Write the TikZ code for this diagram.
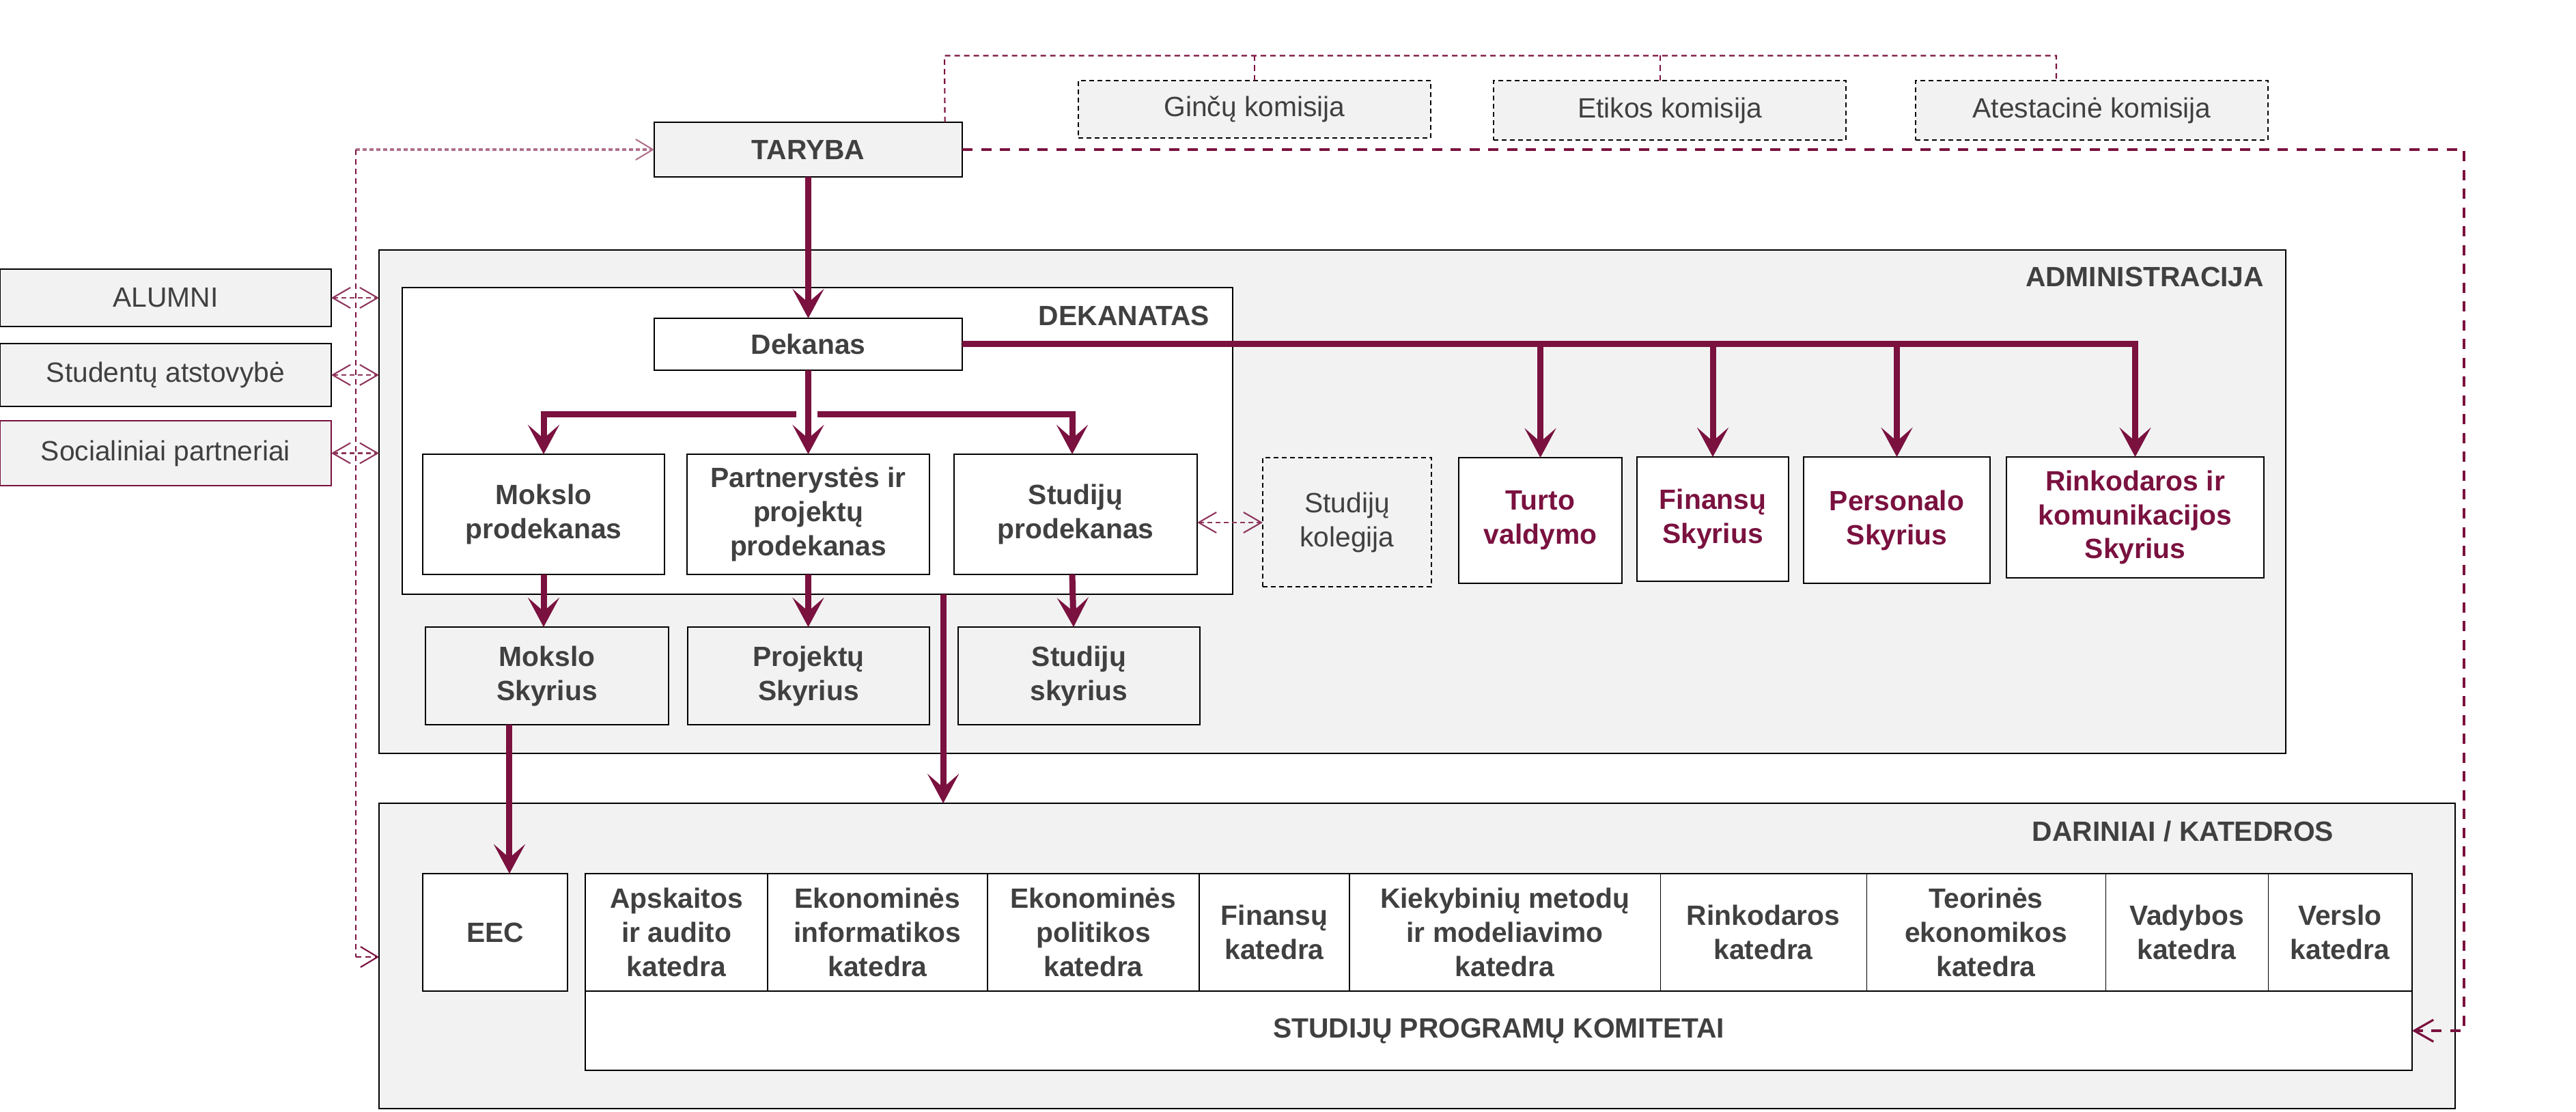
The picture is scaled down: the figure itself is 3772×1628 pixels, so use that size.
\documentclass[tikz,border=0pt]{standalone}
\usepackage{fontspec}
\setmainfont{Liberation Sans}
\usetikzlibrary{arrows.meta}
\definecolor{maroon}{RGB}{122,17,63}
\definecolor{bgc}{RGB}{242,242,242}
\definecolor{txt}{RGB}{64,64,64}
\newcommand\pbox[7]{\node[#1, minimum width={(#5-#3)*0.01cm}, minimum height={(#6-#4)*0.01cm}] (#2) at ({(#3+#5)/2},{(#4+#6)/2}) {#7};}
\begin{document}
\begin{tikzpicture}[x=0.01cm, y=-0.01cm,
  every node/.style={inner sep=0pt, outer sep=0pt, align=center, text=txt},
  nf/.style={font=\fontsize{11.6}{14.2}\selectfont},
  bf/.style={font=\fontsize{11.6}{14.2}\selectfont\bfseries},
  bx/.style={bf, draw=black, line width=0.7pt, fill=white},
  gbx/.style={bx, fill=bgc},
  dbx/.style={nf, draw=black, line width=0.5pt, dash pattern=on 0.07cm off 0.05cm, fill=bgc},
  cell/.style={bf, draw=black, line width=0.3pt, fill=white},
  mtext/.style={text=maroon},
  arr/.style={draw=maroon, line width=0.09cm, -{Stealth[length=0.43cm,width=0.46cm,inset=0.2cm]}},
  barline/.style={draw=maroon, line width=0.09cm},
  thindash/.style={draw=maroon, line width=0.6pt, dash pattern=on 0.08cm off 0.06cm},
  thickdash/.style={draw=maroon, line width=0.045cm, dash pattern=on 0.15cm off 0.125cm},
  lighttip/.style={-{Straight Barb[length=0.25cm,width=0.3cm,line width=0.6pt]}},
  dbl/.style={draw=maroon!85, line width=0.6pt, dash pattern=on 0.07cm off 0.05cm,
     {Straight Barb[length=0.26cm,width=0.3cm,line width=0.6pt]}-{Straight Barb[length=0.26cm,width=0.3cm,line width=0.6pt]}}
]
\useasboundingbox (0,0) rectangle (3772,1628);

% big containers
\pbox{gbx}{admin}{555}{366}{3347}{1103}{}
\pbox{gbx}{darin}{555}{1176}{3595}{1623}{}
\pbox{bx}{dekanatas}{589}{421}{1805}{870}{}
\node[bf, anchor=base east] (admlab) at (3315,419.5) {ADMINISTRACIJA};
\node[bf, anchor=base east] (deklab) at (1771,476.5) {DEKANATAS};
\node[bf, anchor=base east] (darlab) at (3417,1231.5) {DARINIAI / KATEDROS};

% top
\pbox{gbx}{taryba}{958}{179}{1409}{259}{TARYBA}
\pbox{dbx}{ginc}{1579}{118}{2095}{202}{Ginčų komisija}
\pbox{dbx}{etik}{2187}{118}{2703}{205}{Etikos komisija}
\pbox{dbx}{atest}{2805}{118}{3321}{205}{Atestacinė komisija}

% left side
\pbox{gbx, nf}{alumni}{0}{394}{485}{478}{ALUMNI}
\pbox{gbx, nf}{stud}{0}{503}{485}{595}{Studentų atstovybė}
\pbox{gbx, nf, draw=maroon}{soc}{0}{616}{485}{711}{Socialiniai partneriai}

% dekanatas
\pbox{bx}{dek}{958}{466}{1409}{542}{Dekanas}
\pbox{bx}{mpro}{619}{665}{973}{841}{Mokslo\\prodekanas}
\pbox{bx}{ppro}{1006}{665}{1361}{841}{Partnerystės ir\\projektų\\prodekanas}
\pbox{bx}{spro}{1397}{665}{1753}{841}{Studijų\\prodekanas}

% skyriai
\pbox{gbx}{msk}{623}{918}{979}{1061}{Mokslo\\Skyrius}
\pbox{gbx}{psk}{1007}{918}{1361}{1061}{Projektų\\Skyrius}
\pbox{gbx}{ssk}{1403}{918}{1757}{1061}{Studijų\\skyrius}

% right admin
\pbox{dbx}{koleg}{1849}{670}{2096}{859}{Studijų\\kolegija}
\pbox{bx, mtext}{turto}{2136}{670}{2375}{854}{Turto\\valdymo}
\pbox{bx, mtext}{fin}{2397}{669}{2619}{851}{Finansų\\Skyrius}
\pbox{bx, mtext}{pers}{2641}{669}{2914}{854}{Personalo\\Skyrius}
\pbox{bx, mtext}{rink}{2938}{669}{3315}{846}{Rinkodaros ir\\komunikacijos\\Skyrius}

% darinai
\pbox{bx}{eec}{619}{1279}{831}{1451}{EEC}
\pbox{cell}{c1}{857}{1279}{1124}{1451}{Apskaitos\\ir audito\\katedra}
\pbox{cell}{c2}{1124}{1279}{1446}{1451}{Ekonominės\\informatikos\\katedra}
\pbox{cell}{c3}{1446}{1279}{1756}{1451}{Ekonominės\\politikos\\katedra}
\pbox{cell}{c4}{1756}{1279}{1976}{1451}{Finansų\\katedra}
\pbox{cell}{c5}{1976}{1279}{2431}{1451}{Kiekybinių metodų\\ir modeliavimo\\katedra}
\pbox{cell}{c6}{2431}{1279}{2733}{1451}{Rinkodaros\\katedra}
\pbox{cell}{c7}{2733}{1279}{3083}{1451}{Teorinės\\ekonomikos\\katedra}
\pbox{cell}{c8}{3083}{1279}{3321}{1451}{Vadybos\\katedra}
\pbox{cell}{c9}{3321}{1279}{3532}{1451}{Verslo\\katedra}
\pbox{bx}{spk}{857}{1451}{3532}{1567}{STUDIJŲ PROGRAMŲ KOMITETAI}
\draw[line width=0.7pt] (c1.north west) rectangle (spk.south east);

% thick arrows
\draw[arr] (taryba.south) -- (dek.north);
\draw[arr] (dek.south) -- (ppro.north);
\coordinate (barc) at (1183,607);
\draw[arr] ([xshift=-0.17cm]barc) -| (mpro.north);
\draw[arr] ([xshift=0.14cm]barc) -| ([xshift=-0.05cm]spro.north);
\draw[arr] (mpro.south) -- (mpro.south |- msk.north);
\draw[arr] (ppro.south) -- (ppro.south |- psk.north);
\draw[arr] ([xshift=-0.05cm]spro.south) -- ([xshift=-0.03cm]spro.south |- ssk.north);
\draw[arr] ([xshift=1.84cm]dekanatas.south) -- ([xshift=1.84cm]dekanatas.south |- darin.north);
\draw[arr] ([xshift=-0.55cm]msk.south) -- ([xshift=-0.55cm]msk.south |- eec.north);
\draw[arr] (dek.east) -| (rink.north);
\draw[arr] (turto.north |- dek.east) -- (turto.north);
\draw[arr] (fin.north |- dek.east) -- (fin.north);
\draw[arr] (pers.north |- dek.east) -- (pers.north);

% komisijos
\coordinate (kl) at (1383,81.5);
\draw[thindash] ([xshift=2cm]taryba.north) -- (kl) -| ([xshift=-0.52cm]atest.north);
\draw[thindash] (ginc.north |- kl) -- (ginc.north);
\draw[thindash] ([xshift=-0.14cm]etik.north |- kl) -- ([xshift=-0.14cm]etik.north);

% thick dashed to komitetai
\coordinate (rc) at (3608,219);
\draw[thickdash, -{Straight Barb[length=0.28cm,width=0.32cm,line width=0.9pt]}] (taryba.east) -- (rc) |- (spk.east);

% left links
\coordinate (lt) at (521,219);
\coordinate (lb) at (521,1401);
\draw[draw=maroon!60, line width=1pt, dash pattern=on 0.06cm off 0.04cm, lighttip] (lt) -- (taryba.west);
\draw[thindash] (lt) -- (lb);
\draw[thindash, lighttip] (lb) -- (lb -| darin.west);
\draw[dbl] (alumni.east) -- (alumni.east -| admin.west);
\draw[dbl] (stud.east) -- (stud.east -| admin.west);
\draw[dbl] (soc.east) -- (soc.east -| admin.west);
\draw[dbl] ([yshift=-0.12cm]spro.east) -- ([yshift=-0.12cm]spro.east -| koleg.west);
\end{tikzpicture}
\end{document}
